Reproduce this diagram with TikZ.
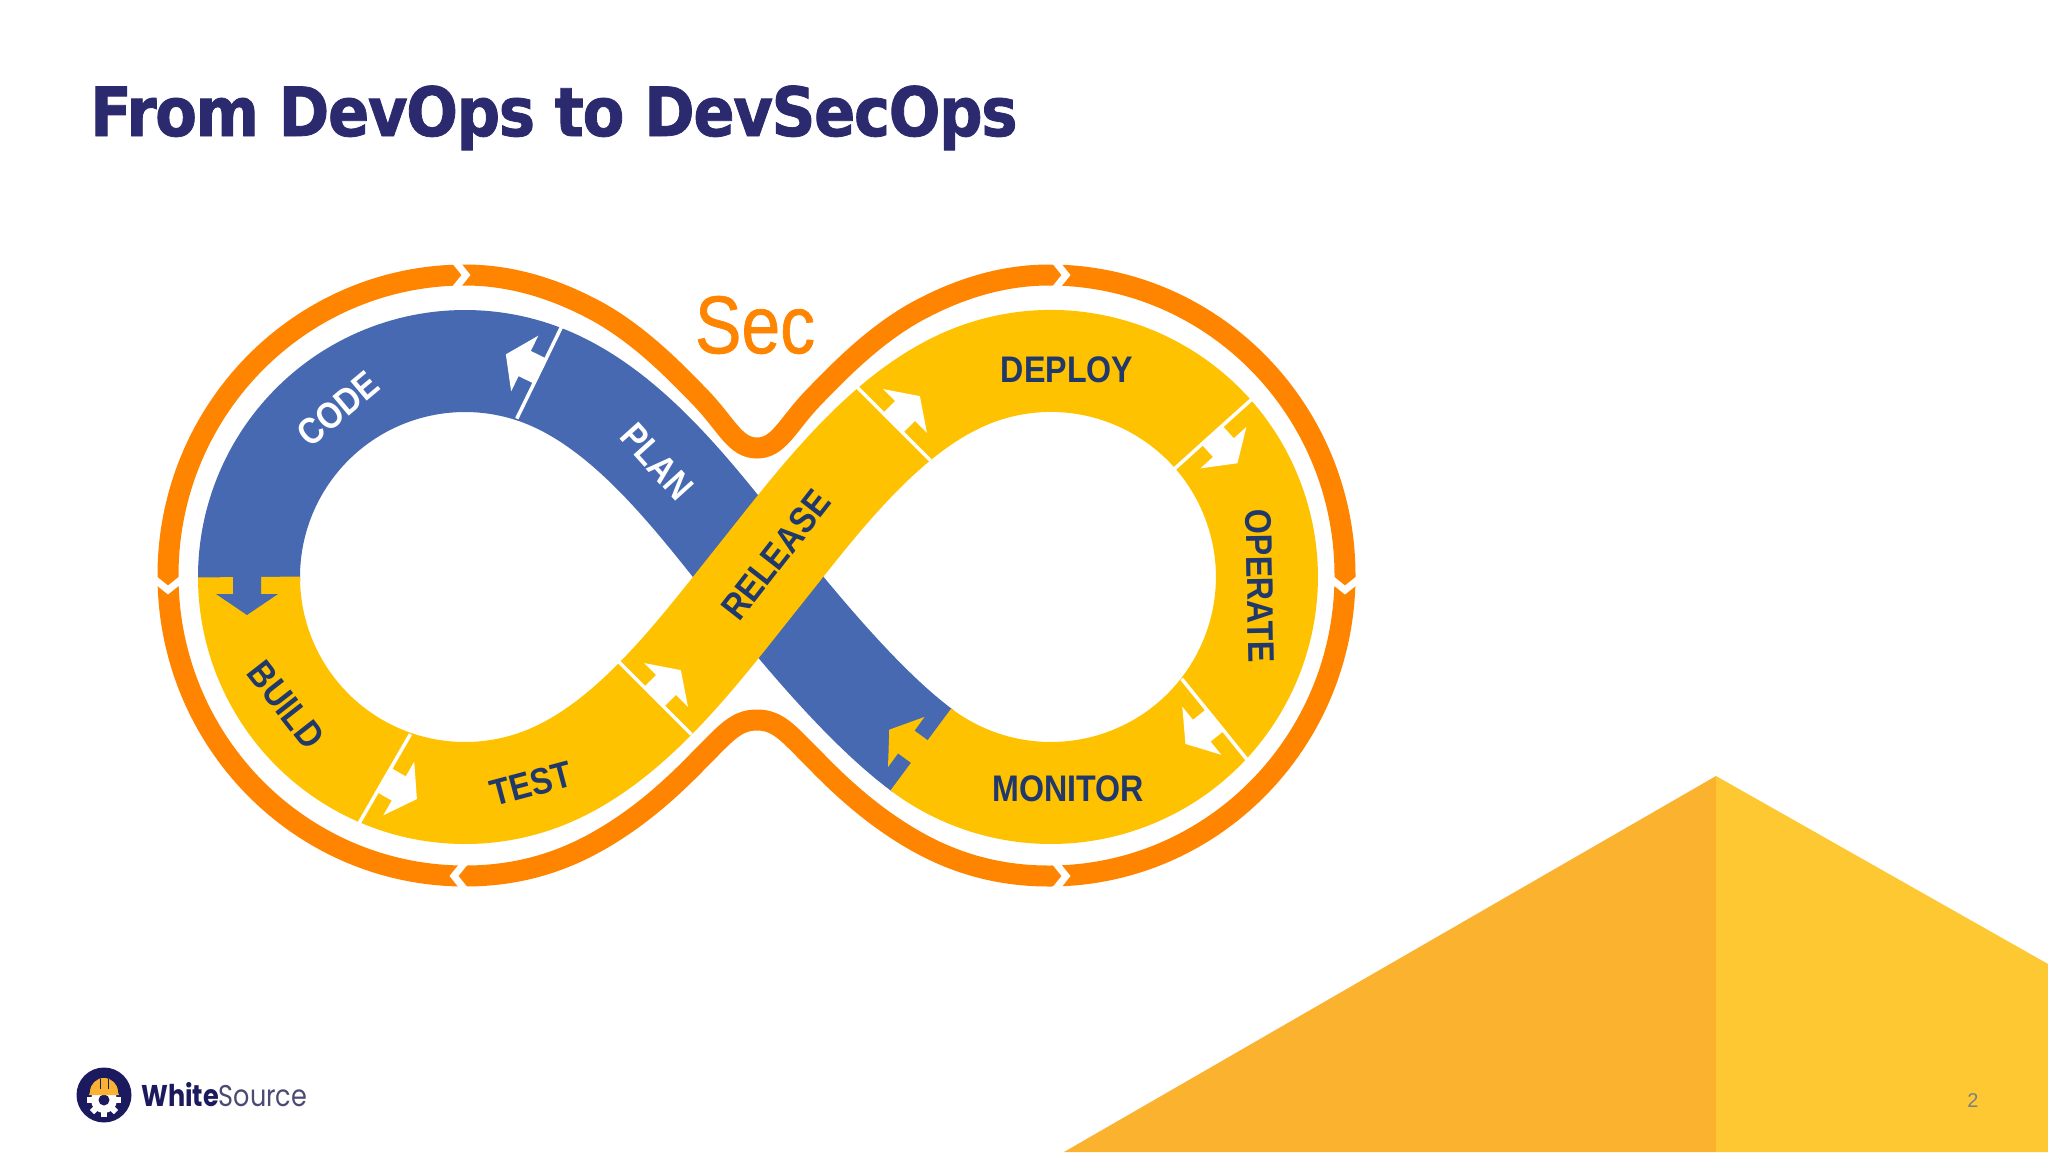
\documentclass[tikz,border=0pt]{standalone}
\usepackage{fontspec}
\usepackage{xcolor}
\usetikzlibrary{positioning}
\setmainfont{Liberation Sans}
\newfontfamily\titlefont[FakeStretch=0.895,LetterSpace=-2,BoldFeatures={FakeBold=1.2}]{DejaVu Sans}
\newfontfamily\labelfont[FakeStretch=0.87]{Liberation Sans}
\newfontfamily\secfont[FakeStretch=0.85,FakeBold=0.8]{Liberation Sans}
\newfontfamily\logofont[FakeStretch=0.85]{Poppins}
\definecolor{titlenavy}{HTML}{2B2A6E}
\definecolor{labelnavy}{HTML}{20386A}
\definecolor{logonavy}{HTML}{1C1A5E}
\definecolor{logogrey}{HTML}{4A4A72}
\definecolor{planblue}{HTML}{4669B1}
\definecolor{opsyellow}{HTML}{FEC200}
\definecolor{secorange}{HTML}{FF8500}
\definecolor{helmetgold}{HTML}{F9B233}
\definecolor{cornerleft}{HTML}{FBB22E}
\definecolor{cornerright}{HTML}{FDC832}
\tikzstyle{bandline} = [line width=102pt, line cap=butt]
\tikzstyle{ringline} = [line width=21pt, draw=secorange]
\tikzstyle{sepline} = [line width=3.5pt, draw=white]
\tikzstyle{gapline} = [line width=7pt, draw=white, line join=miter]
\tikzstyle{stagelabel} = [font=\labelfont\bfseries\fontsize{37}{40}\selectfont, text=labelnavy, inner sep=0pt]
\newcommand{\flowarrow}[4]{
  \fill[#4, shift={(#1,#2)}, rotate=#3] (-1.5,-14) -- (17,-14) -- (17,-31) -- (38,0) -- (17,31) -- (17,14) -- (-1.5,14) -- cycle;
}
\newcommand{\stagesep}[3]{
  \flowarrow{#1}{#2}{#3}{white}
  \draw[sepline, shift={(#1,#2)}, rotate=#3] (0,-53) -- (0,53);
}
\newcommand{\ringgap}[3]{
  \draw[gapline, shift={(#1,#2)}, rotate=#3] (-6,-15) -- (6,0) -- (-6,15);
}

\begin{document}
\begin{tikzpicture}[x=1pt, y=-1pt]
  \useasboundingbox (0,0) rectangle (2048,1152);
  \fill[white] (0,0) rectangle (2048,1152);

  \fill[cornerleft] (1064,1152) -- (1716,776) -- (1716,1152) -- cycle;
  \fill[cornerright] (1716,776) -- (2048,964) -- (2048,1152) -- (1716,1152) -- cycle;

  \node (title) [anchor=base west, inner sep=0pt, text=titlenavy, font=\titlefont\bfseries\fontsize{68}{72}\selectfont] at (90,136) {From DevOps to DevSecOps};

  % outer ring
  \draw[ringline] (168,575.5) arc[start angle=180, end angle=270, x radius=297, y radius=300.5]
    .. controls (510,275) and (555,288) .. (600,313)
    .. controls (640,336) and (672,368) .. (700,397)
    .. controls (727,425) and (735,448) .. (757,448)
    .. controls (779,448) and (787,425) .. (814,397)
    .. controls (842,368) and (874,336) .. (914,313)
    .. controls (959,288) and (1004,275) .. (1049,275)
    arc[start angle=270, end angle=450, x radius=296, y radius=300.5]
    .. controls (1004,876) and (959,866) .. (914,840)
    .. controls (874,817) and (842,788) .. (814,759)
    .. controls (788,733) and (778,720) .. (757,720)
    .. controls (736,720) and (726,733) .. (700,759)
    .. controls (672,788) and (640,817) .. (600,840)
    .. controls (555,866) and (510,876) .. (465,876)
    arc[start angle=90, end angle=180, x radius=297, y radius=300.5] -- cycle;
  \ringgap{460}{275}{0}
  \ringgap{1060}{275}{0}
  \ringgap{460}{876}{180}
  \ringgap{1060}{876}{0}
  \ringgap{168}{584}{-90}
  \ringgap{1345}{584}{-90}

  % band
  \draw[bandline, planblue] (249,581) -- (249,577) arc[start angle=180, end angle=290, radius=216]
    .. controls (629,407) and (698,502) .. (758,577)
    .. controls (818,652) and (873,713.5) .. (921,749.5) -- (922.6,750.7);
  \draw[bandline, opsyellow] (249,577) arc[start angle=180, end angle=70, radius=216]
    .. controls (629,747) and (698,652) .. (758,577)
    .. controls (818,502) and (887,407) .. (977,374)
    arc[start angle=250, end angle=487, radius=216];

  \flowarrow{247}{577}{-90}{planblue}
  \flowarrow{920}{752}{144}{opsyellow}
  \stagesep{540}{371}{154}
  \stagesep{384}{780}{-30}
  \stagesep{654}{697}{45}
  \stagesep{893}{423}{45}
  \stagesep{1212}{435}{-48}
  \stagesep{1215}{720}{-141}

  \node (code) [stagelabel, text=white, rotate=40] at (338,409) {CODE};
  \node (plan) [stagelabel, text=white, rotate=-48] at (657,462) {PLAN};
  \node (build) [stagelabel, rotate=-52] at (286,705) {BUILD};
  \node (test) [stagelabel, rotate=15] at (531,784) {TEST};
  \node (release) [stagelabel, rotate=52] at (776,555) {RELEASE};
  \node (deploy) [stagelabel] at (1067,370) {DEPLOY};
  \node (operate) [stagelabel, rotate=-89] at (1260,586) {OPERATE};
  \node (monitor) [stagelabel] at (1068,789) {MONITOR};
  \node (sec) [inner sep=0pt, text=secorange, font=\secfont\fontsize{82}{86}\selectfont] at (755,325) {Sec};

  % logo
  \node (logo) [circle, fill=logonavy, minimum size=55pt, inner sep=0pt] at (104,1095) {};
  \fill[white] (104,1100) circle (13);
  \foreach \a in {0,45,...,180} {
    \fill[white, shift={(104,1100)}, rotate=-\a] (12,-3) rectangle (17,3);
  }
  \fill[logonavy] (104,1100) circle (5.5);
  \fill[helmetgold] (89,1095) -- (90,1092) arc[start angle=180, end angle=360, radius=14] -- (119,1095) -- cycle;
  \draw[logonavy, line width=1pt] (100,1079) -- (100,1089) (108,1079) -- (108,1089);
  \node (brand) [anchor=base west, inner sep=0pt, text=logonavy, font=\logofont\fontsize{30}{34}\selectfont] at (141,1106) {\textbf{White}\textcolor{logogrey}{Source}};

  \node (pagenum) [inner sep=0pt, text=gray, font=\fontsize{20}{22}\selectfont] at (1973,1100) {2};
\end{tikzpicture}
\end{document}
